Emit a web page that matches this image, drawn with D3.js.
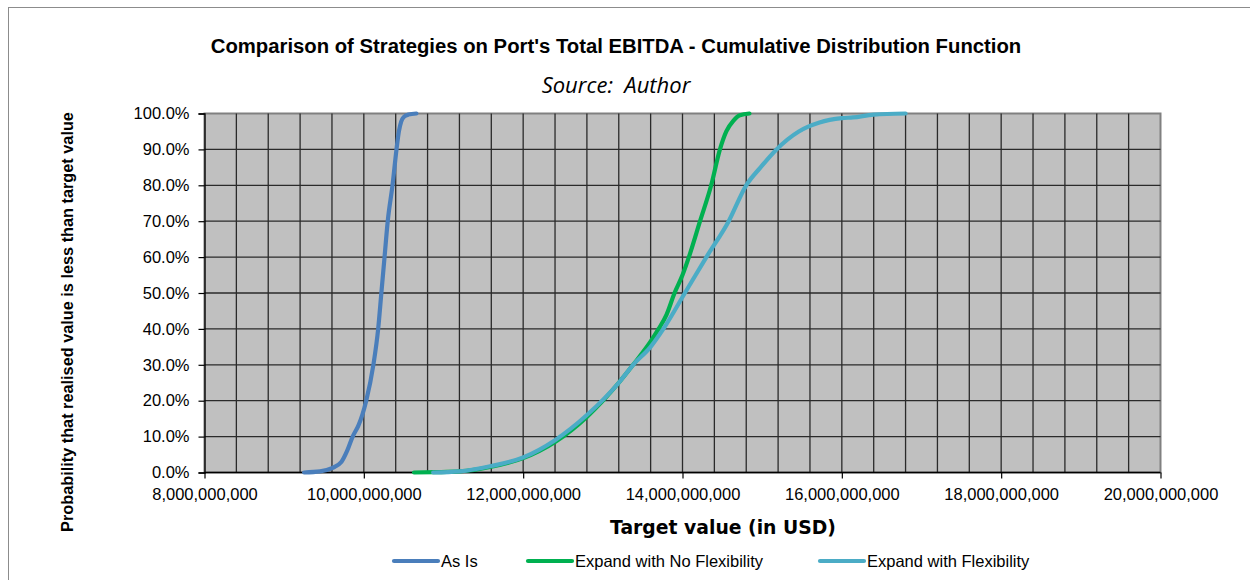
<!DOCTYPE html>
<html>
<head>
<meta charset="utf-8">
<script src="https://cdn.jsdelivr.net/npm/d3@7.9.0/dist/d3.min.js"></script>
<style>
  body { margin: 0; background: #fff; }
  svg { display: block; }
</style>
</head>
<body>
<svg id="chart" width="1250" height="580"></svg>
<script>
// ============= DATA (x in billions of USD, y in % cumulative) ==================

const seriesNames = ["As Is", "Expand with No Flexibility", "Expand with Flexibility"];
const seriesColors = ["#4a7ebb", "#00b050", "#4bacc6"];

const asIs = [
  [9.25, 0], [9.45, 0.3], [9.60, 1.2], [9.72, 3], [9.79, 6], [9.86, 10],
  [9.93, 13], [9.98, 16], [10.03, 20], [10.12, 30], [10.18, 40], [10.22, 50],
  [10.26, 60], [10.30, 70], [10.36, 80], [10.41, 90], [10.44, 95],
  [10.47, 97.8], [10.50, 99], [10.56, 99.7], [10.66, 100]
];

const expandNoFlex = [
  [10.63, 0], [10.9, 0.1], [11.2, 0.3], [11.6, 1.6], [12.0, 4], [12.4, 8.5],
  [12.8, 15.5], [13.2, 25], [13.38, 30], [13.6, 36.5], [13.7, 40], [13.8, 44],
  [13.9, 50], [14.0, 55], [14.08, 60], [14.22, 70], [14.36, 80], [14.47, 90],
  [14.55, 95], [14.64, 98], [14.72, 99.5], [14.84, 100]
];

const expandFlex = [
  [10.87, 0], [11.2, 0.3], [11.6, 1.8], [12.0, 4.2], [12.4, 9], [12.8, 16],
  [13.2, 25], [13.38, 30], [13.6, 35], [13.76, 40], [14.03, 50], [14.30, 60],
  [14.58, 70], [14.80, 80], [14.98, 85], [15.18, 90], [15.46, 95],
  [15.72, 97.5], [16.0, 98.7], [16.14, 98.9], [16.4, 99.7], [16.8, 100]
];

const xTicks = [8, 10, 12, 14, 16, 18, 20];          // major ticks (billions)
const xGrid = d3.range(8, 20.001, 0.4);              // minor gridlines every 0.4bn
const yTicks = [0, 10, 20, 30, 40, 50, 60, 70, 80, 90, 100];

// ============= LAYOUT ==================

const svg = d3.select("#chart");
const plot = { left: 204.5, right: 1160.5, top: 113.5, bottom: 472.5 };

const x = d3.scaleLinear().domain([8, 20]).range([plot.left, plot.right]);
const y = d3.scaleLinear().domain([0, 100]).range([plot.bottom, plot.top]);

// outer chart border
svg.append("rect")
  .attr("x", 8.5).attr("y", 7.5)
  .attr("width", 1300).attr("height", 600)
  .attr("fill", "none").attr("stroke", "#8c8c8c").attr("stroke-width", 1);

// plot background
svg.append("rect")
  .attr("x", plot.left).attr("y", plot.top)
  .attr("width", plot.right - plot.left).attr("height", plot.bottom - plot.top)
  .attr("fill", "#c0c0c0")
  .attr("stroke", "#808080").attr("stroke-width", 2);

// gridlines
const grid = svg.append("g").attr("stroke", "#2a2a2a").attr("stroke-width", 1.3);
grid.selectAll(".vx").data(xGrid.slice(1, -1)).join("line")
  .attr("x1", d => x(d)).attr("x2", d => x(d))
  .attr("y1", plot.top).attr("y2", plot.bottom);
grid.selectAll(".hy").data(yTicks.slice(1, -1)).join("line")
  .attr("x1", plot.left).attr("x2", plot.right)
  .attr("y1", d => y(d)).attr("y2", d => y(d));

// axes
const fmtUSD = d3.format(",");
const xAxis = svg.append("g")
  .attr("transform", `translate(0,${plot.bottom})`)
  .call(d3.axisBottom(x).tickValues(xTicks).tickSize(6).tickPadding(10)
    .tickFormat(d => fmtUSD(Math.round(d * 1e9))));
const yAxis = svg.append("g")
  .attr("transform", `translate(${plot.left},0)`)
  .call(d3.axisLeft(y).tickValues(yTicks).tickSize(6).tickPadding(9)
    .tickFormat(d => d.toFixed(1) + "%"));

[xAxis, yAxis].forEach(a => {
  a.select(".domain").attr("stroke", "#000").attr("stroke-width", 1.3);
  a.selectAll(".tick line").attr("stroke", "#000").attr("stroke-width", 1.2);
  a.selectAll(".tick text")
    .attr("fill", "#000")
    .style("font-family", "'Liberation Sans', Arial, sans-serif")
    .style("font-size", "16.5px");
});
xAxis.select(".domain").attr("d", `M${plot.left},0H${plot.right}`);

// ============= LINES ==================

const line = d3.line()
  .x(d => x(d[0]))
  .y(d => y(d[1]))
  .curve(d3.curveMonotoneX);

const allSeries = [asIs, expandNoFlex, expandFlex];
svg.append("g").selectAll("path").data(allSeries).join("path")
  .attr("d", line)
  .attr("fill", "none")
  .attr("stroke", (d, i) => seriesColors[i])
  .attr("stroke-width", 4.2)
  .attr("stroke-linecap", "round")
  .attr("stroke-linejoin", "round");

// ============= TEXT ==================

svg.append("text")
  .attr("x", 616).attr("y", 53)
  .attr("text-anchor", "middle")
  .style("font-family", "'Liberation Sans', Arial, sans-serif")
  .style("font-weight", "bold").style("font-size", "20.3px")
  .text("Comparison of Strategies on Port's Total EBITDA - Cumulative Distribution Function");

svg.append("text")
  .attr("x", 616).attr("y", 93)
  .attr("text-anchor", "middle")
  .style("font-family", "'Open Sans', sans-serif")
  .style("font-style", "italic").style("font-size", "22px")
  .attr("xml:space", "preserve")
  .text("Source:  Author");

svg.append("text")
  .attr("x", 723).attr("y", 534)
  .attr("text-anchor", "middle")
  .style("font-family", "'DejaVu Sans', Verdana, sans-serif")
  .style("font-weight", "bold").style("font-size", "18.8px")
  .text("Target value (in USD)");

svg.append("text")
  .attr("transform", "translate(73,322) rotate(-90)")
  .attr("text-anchor", "middle")
  .style("font-family", "'Liberation Sans', Arial, sans-serif")
  .style("font-weight", "bold").style("font-size", "16.3px")
  .text("Probability that realised value is less than target value");

// legend
const legendX = [394, 528, 820];
const legend = svg.append("g").selectAll("g").data(seriesNames).join("g")
  .attr("transform", (d, i) => `translate(${legendX[i]},561)`);
legend.append("line")
  .attr("x1", 0).attr("x2", 44)
  .attr("stroke", (d, i) => seriesColors[i])
  .attr("stroke-width", 4.2).attr("stroke-linecap", "round");
legend.append("text")
  .attr("x", 47).attr("y", 5.5)
  .style("font-family", "'Liberation Sans', Arial, sans-serif")
  .style("font-size", "16.5px")
  .text(d => d);
</script>
</body>
</html>
